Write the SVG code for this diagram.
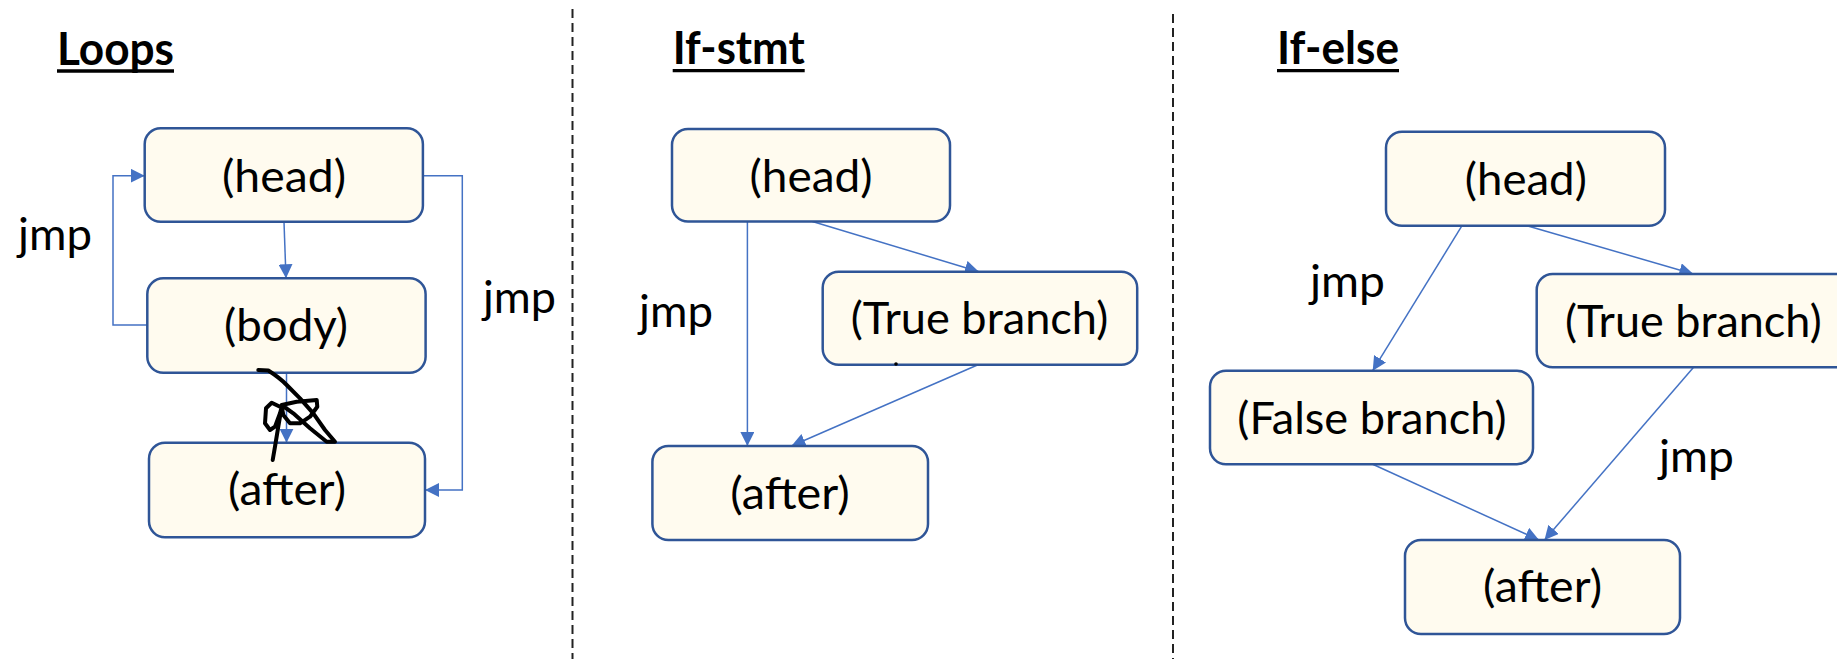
<svg xmlns="http://www.w3.org/2000/svg" width="1837" height="659" viewBox="0 0 1837 659">
  <style>
    .box { fill: #FFFBEF; stroke: #2F5597; stroke-width: 2.5; }
    .lbl { font-family: Lato, "Open Sans", "Liberation Sans", sans-serif; font-size: 45px; fill: #000; text-anchor: middle; }
    .jmp { font-family: Lato, "Open Sans", "Liberation Sans", sans-serif; font-size: 45px; fill: #000; }
    .title { font-family: Lato, "Open Sans", "Liberation Sans", sans-serif; font-size: 45px; font-weight: bold; fill: #000; }
    .uline { stroke: #000; stroke-width: 3.3; }
    .edge { fill: none; stroke: #4472C4; stroke-width: 1.5; marker-end: url(#arr); }
    .sep { stroke: #222; stroke-width: 2; stroke-dasharray: 9 5; }
    .ink { fill: none; stroke: #000; stroke-width: 4; stroke-linecap: round; stroke-linejoin: round; }
  </style>
  <defs>
    <marker id="arr" markerUnits="userSpaceOnUse" markerWidth="14" markerHeight="14" viewBox="0 0 14 14" refX="14" refY="7" orient="auto">
      <path d="M0,0 L14,7 L0,14 z" fill="#4472C4"/>
    </marker>
  </defs>

  <rect width="1837" height="659" fill="#fff"/>

  <!-- panel separators -->
  <g id="separators">
    <line class="sep" x1="572.5" y1="9" x2="572.5" y2="659"/>
    <line class="sep" x1="1173" y1="14" x2="1173" y2="659"/>
  </g>

  <!-- section titles, underlined -->
  <g id="titles">
    <text class="title" x="57" y="65" textLength="117" lengthAdjust="spacingAndGlyphs">Loops</text>
    <line class="uline" x1="57" y1="71" x2="174" y2="71"/>
    <text class="title" x="672.7" y="64" textLength="132" lengthAdjust="spacingAndGlyphs">If-stmt</text>
    <line class="uline" x1="672.7" y1="70.7" x2="804.7" y2="70.7"/>
    <text class="title" x="1277" y="64" textLength="122" lengthAdjust="spacingAndGlyphs">If-else</text>
    <line class="uline" x1="1277" y1="70.7" x2="1399" y2="70.7"/>
  </g>

  <!-- connectors -->
  <g id="connectors">
    <!-- loops -->
    <path class="edge" d="M284,222 L286,278.3"/>
    <path class="edge" d="M286.5,372.7 L286.5,442.7"/>
    <path class="edge" d="M147.3,325 H113 V175.7 H144.7"/>
    <path class="edge" d="M422.9,175.7 H462.3 V490 H425"/>
    <!-- if-stmt -->
    <path class="edge" d="M747.4,221.5 V446"/>
    <path class="edge" d="M812.4,221.5 L978.9,271.7"/>
    <path class="edge" d="M978,364.7 L791.4,446"/>
    <!-- if-else -->
    <path class="edge" d="M1462,225.7 L1372.7,370.7"/>
    <path class="edge" d="M1527,225.7 L1693.3,274"/>
    <path class="edge" d="M1372.7,464.3 L1539,540"/>
    <path class="edge" d="M1693.6,367.3 L1544.5,540"/>
  </g>

  <!-- Loops -->
  <g id="loops-head">
    <rect class="box" x="144.7" y="128.3" width="278.2" height="93.4" rx="16"/>
    <text class="lbl" x="284" y="191.7" textLength="124" lengthAdjust="spacingAndGlyphs">(head)</text>
  </g>
  <g id="loops-body">
    <rect class="box" x="147.3" y="278.3" width="278.3" height="94.4" rx="16"/>
    <text class="lbl" x="286" y="341" textLength="124" lengthAdjust="spacingAndGlyphs">(body)</text>
  </g>
  <g id="loops-after">
    <rect class="box" x="149" y="442.7" width="276" height="94.6" rx="16"/>
    <text class="lbl" x="287" y="505" textLength="118" lengthAdjust="spacingAndGlyphs">(after)</text>
  </g>
  <g id="loops-labels">
    <text class="jmp" x="18" y="250" textLength="74" lengthAdjust="spacingAndGlyphs">jmp</text>
    <text class="jmp" x="483" y="313" textLength="73" lengthAdjust="spacingAndGlyphs">jmp</text>
  </g>

  <!-- hand-drawn ink mark over the body/after edge -->
  <path id="ink-mark" class="ink" d="M258.3,370 L268.3,370.5 Q280,378 286.7,385 L300,398.3 L313.3,413.3 L325,430 L335,441.7 L326.7,441.7 L310,428.3 L293.3,413.3 L281.7,405 L296.7,401.7 L316.7,400 L317.3,406.7 L310,416.7 L300,423.3 L290,423.3 L283.3,415 L281.7,406.7 M280,406.7 L271.7,402.7 L266,408.3 L265,423.3 L270,430 L275,426.7 L280,413.3 L282,406 M281.7,406.7 L278.3,426.7 L275,446.7 L272.7,460"/>

  <!-- If-stmt -->
  <g id="ifstmt-head">
    <rect class="box" x="672" y="129" width="278" height="92.5" rx="16"/>
    <text class="lbl" x="811" y="191.7" textLength="123" lengthAdjust="spacingAndGlyphs">(head)</text>
  </g>
  <g id="ifstmt-true">
    <rect class="box" x="822.7" y="271.7" width="314.5" height="93" rx="16"/>
    <text class="lbl" x="979.5" y="334" textLength="257.6" lengthAdjust="spacingAndGlyphs">(True branch)</text>
    <circle cx="896" cy="364" r="1.8" fill="#000"/>
  </g>
  <g id="ifstmt-after">
    <rect class="box" x="652.4" y="446" width="275.6" height="94" rx="16"/>
    <text class="lbl" x="790" y="509" textLength="119.5" lengthAdjust="spacingAndGlyphs">(after)</text>
  </g>
  <g id="ifstmt-labels">
    <text class="jmp" x="639" y="327" textLength="74" lengthAdjust="spacingAndGlyphs">jmp</text>
  </g>

  <!-- If-else -->
  <g id="ifelse-head">
    <rect class="box" x="1386" y="131.7" width="279" height="94" rx="16"/>
    <text class="lbl" x="1525.8" y="194.5" textLength="122" lengthAdjust="spacingAndGlyphs">(head)</text>
  </g>
  <g id="ifelse-true">
    <rect class="box" x="1536.7" y="274" width="340" height="93.3" rx="16"/>
    <text class="lbl" x="1693.3" y="337.3" textLength="256.7" lengthAdjust="spacingAndGlyphs">(True branch)</text>
  </g>
  <g id="ifelse-false">
    <rect class="box" x="1210" y="370.7" width="323" height="93.6" rx="16"/>
    <text class="lbl" x="1372" y="433.5" textLength="269.3" lengthAdjust="spacingAndGlyphs">(False branch)</text>
  </g>
  <g id="ifelse-after">
    <rect class="box" x="1405" y="540" width="275" height="94" rx="16"/>
    <text class="lbl" x="1542.6" y="602" textLength="119" lengthAdjust="spacingAndGlyphs">(after)</text>
  </g>
  <g id="ifelse-labels">
    <text class="jmp" x="1310" y="297" textLength="75" lengthAdjust="spacingAndGlyphs">jmp</text>
    <text class="jmp" x="1659" y="472" textLength="75" lengthAdjust="spacingAndGlyphs">jmp</text>
  </g>
</svg>
